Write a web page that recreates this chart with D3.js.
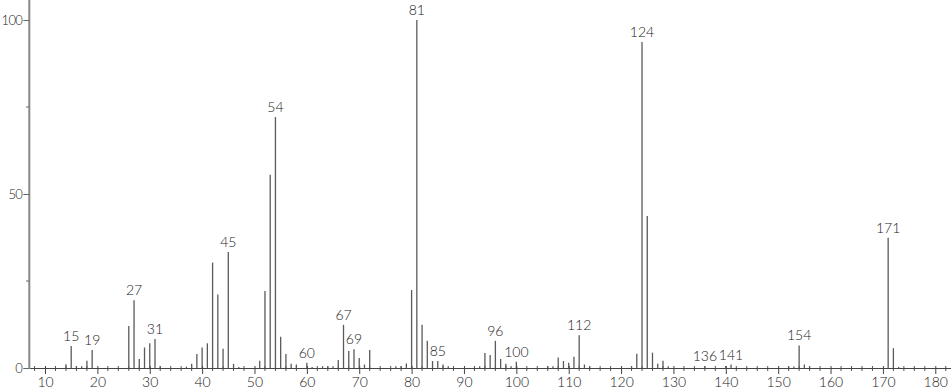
<!DOCTYPE html>
<html><head><meta charset="utf-8">
<script src="https://cdn.jsdelivr.net/npm/d3@7"></script>
<style>body{margin:0;background:#fff}svg{display:block}text{font-family:Lato,"Open Sans",sans-serif;font-weight:300}</style>
</head><body><svg id="c" width="951" height="389"></svg>
<script>
const mz = [14,15,16,17,18,19,26,27,28,29,30,31,32,37,38,39,40,41,42,43,44,45,46,47,51,52,53,54,55,56,57,58,60,61,63,64,65,66,67,68,69,70,71,72,77,78,79,80,81,82,83,84,85,86,87,93,94,95,96,97,98,99,100,106,107,108,109,110,111,112,113,114,122,123,124,125,126,127,128,129,136,140,141,152,153,154,155,156,171,172,173];
const intensity = [1.1,6.3,0.5,0.5,2.1,5.2,12.1,19.5,2.6,5.9,7.1,8.3,0.5,0.4,1.2,4.0,5.9,7.1,30.3,21.1,5.5,33.3,1.2,0.3,2.1,22.1,55.5,72.1,9.0,4.0,1.2,1.0,1.5,0.3,0.5,0.5,0.5,2.3,12.4,4.9,5.4,2.9,1.0,5.2,0.5,0.5,1.3,22.4,100,12.4,7.8,2.0,2.0,1.0,0.5,0.5,4.3,3.7,7.8,2.6,1.2,0.5,1.8,0.5,0.5,3.0,2.0,1.5,3.2,9.4,1.0,0.5,0.5,4.1,93.7,43.7,4.4,1.2,2.1,0.5,0.5,0.6,1.0,0.4,0.4,6.5,1.0,0.5,37.4,5.7,0.3];
const labelled = [15,19,27,31,45,54,60,67,69,81,85,96,100,112,124,136,141,154,171];
const xMajor = [10,20,30,40,50,60,70,80,90,100,110,120,130,140,150,160,170,180];
const yMajor = [0,50,100];
const yMinor = [25,75];

const svg = d3.select("#c");
const x = d3.scaleLinear().domain([7,183]).range([29.3,951]);
const y = d3.scaleLinear().domain([0,100]).range([368,20]);

// x minor ticks every 2
const xMinor = d3.range(8,183,2).filter(v=>v%10!==0);
svg.append("g").selectAll("line").data(xMinor).join("line")
  .attr("x1",d=>x(d)).attr("x2",d=>x(d)).attr("y1",366).attr("y2",371)
  .attr("stroke","#555").attr("stroke-width",1);

// bars
svg.append("g").selectAll("line").data(mz.map((m,i)=>({m,v:intensity[i]}))).join("line")
  .attr("x1",d=>x(d.m)).attr("x2",d=>x(d.m))
  .attr("y1",y(0)).attr("y2",d=>y(d.v))
  .attr("stroke","#5a5a5a").attr("stroke-width",1.3);

// x axis
const xAxis = d3.axisBottom(x).tickValues(xMajor).tickSize(6).tickPadding(3).tickSizeOuter(0);
const gx = svg.append("g").attr("transform","translate(0,368)").call(xAxis);
gx.select(".domain").attr("stroke","#444");
gx.selectAll(".tick line").attr("stroke","#444").attr("y1",-2);
gx.selectAll("text").attr("font-size",14).attr("fill","#222");

// y axis
svg.append("line").attr("x1",29.3).attr("x2",29.3).attr("y1",0).attr("y2",368.5)
  .attr("stroke","#888").attr("stroke-width",2);
const yAxis = d3.axisLeft(y).tickValues(yMajor).tickSize(6).tickPadding(1);
const gy = svg.append("g").attr("transform","translate(29.3,0)").call(yAxis);
gy.select(".domain").remove();
gy.selectAll(".tick line").attr("stroke","#666");
gy.selectAll("text").attr("font-size",13).attr("letter-spacing","-0.6px").attr("fill","#222");
svg.append("g").selectAll("line").data(yMinor).join("line")
  .attr("x1",26).attr("x2",29.3).attr("y1",d=>y(d)).attr("y2",d=>y(d)).attr("stroke","#666");

// peak labels
svg.append("g").selectAll("text").data(labelled).join("text")
  .attr("x",d=>x(d)).attr("y",d=>y(intensity[mz.indexOf(d)])-5)
  .attr("text-anchor","middle").attr("font-size",14).attr("fill","#222")
  .text(d=>d);
</script></body></html>
